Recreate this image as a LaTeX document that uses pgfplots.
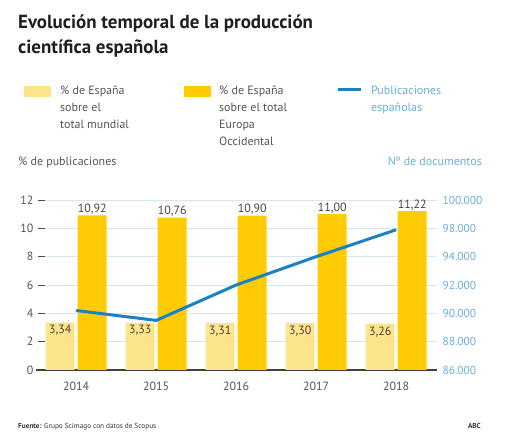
\documentclass[border=0pt]{standalone}
\usepackage{pgfplots}
\pgfplotsset{compat=1.18}
\usepackage{fontspec}
\setmainfont{PT Sans}
\definecolor{lightbar}{HTML}{FDE38A}
\definecolor{darkbar}{HTML}{FFCB05}
\definecolor{lineblue}{HTML}{1B80C4}
\definecolor{rightblue}{HTML}{6CAED6}
\definecolor{gridblue}{HTML}{D3E6F1}
\definecolor{txtgray}{HTML}{555555}
\definecolor{valgray}{HTML}{4A4438}
\begin{document}
\begin{tikzpicture}
\begin{axis}[
  name=main,
  scale only axis, width=392bp, height=170bp,
  xmin=-0.39, xmax=4.51, ymin=0, ymax=12,
  axis x line*=bottom, axis y line*=left,
  x axis line style={draw=black!75, line width=1.2pt, shorten <=-9bp, -},
  y axis line style={draw=none},
  xtick={0,1,2,3,4}, xticklabels={2014,2015,2016,2017,2018},
  xtick style={draw=none},
  ytick={0,2,...,12},
  ytick style={draw=black!70, line width=0.8pt},
  tick align=outside, major tick length=7bp,
  ymajorgrids, grid style={gridblue, line width=0.8pt},
  ticklabel style={font=\fontsize{12}{14}\selectfont, text=txtgray},
  yticklabel style={xshift=-1bp},
  xticklabel style={yshift=-1bp},
  /pgf/number format/assume math mode=true,
  ybar, bar width=0.3625,
  clip=false,
]
\addplot[fill=lightbar, draw=none, bar shift=-0.2,
  nodes near coords, nodes near coords style={anchor=north, yshift=-1bp, font=\fontsize{12}{14}\selectfont, text=valgray, inner sep=1.5pt, /pgf/number format/.cd, use comma, fixed, fixed zerofill, precision=2, assume math mode=true}]
  coordinates {(0,3.34) (1,3.33) (2,3.31) (3,3.30) (4,3.26)};
\addplot[fill=darkbar, draw=none, bar shift=0.2,
  nodes near coords, nodes near coords style={anchor=south, yshift=-0.5bp, font=\fontsize{12}{14}\selectfont, text=valgray, inner sep=1.5pt, /pgf/number format/.cd, use comma, fixed, fixed zerofill, precision=2, assume math mode=true}]
  coordinates {(0,10.92) (1,10.76) (2,10.90) (3,11.00) (4,11.22)};
\coordinate (O) at (rel axis cs:0,0);
\end{axis}

\begin{axis}[
  at={(main.south west)}, anchor=south west,
  scale only axis, width=392bp, height=170bp,
  xmin=-0.39, xmax=4.51, ymin=86000, ymax=98000,
  axis x line=none, axis y line*=right,
  y axis line style={draw=none},
  scaled y ticks=false,
  ytick={86000,88000,90000,92000,94000,96000,98000},
  yticklabels={86.000,88.000,90.000,92.000,94.000,98.000,100.000},
  major tick length=0pt,
  yticklabel style={font=\fontsize{11.5}{14}\selectfont, text=rightblue, xshift=2bp},
  /pgf/number format/assume math mode=true,
  clip=false,
]
\addplot[lineblue, line width=3bp, mark=none] coordinates {(0,90200) (1,89500) (2,92000) (3,94000) (4,95900)};
\end{axis}

\pgfresetboundingbox
\begin{scope}[shift={(O)}, xshift=-45bp, yshift=-72bp, x=1bp, y=1bp]
\path[use as bounding box] (0,0) rectangle (505,442);
% title
\node[anchor=base west,inner sep=0pt,font=\fontsize{19}{23}\selectfont\bfseries,text=black!88] at (18,413.5) {Evolución temporal de la producción};
\node[anchor=base west,inner sep=0pt,font=\fontsize{19}{23}\selectfont\bfseries,text=black!88] at (18,388.5) {científica española};
% legend
\fill[lightbar] (24,345) rectangle (51,356);
\fill[darkbar] (184,345) rectangle (211,356);
\draw[lineblue,line width=3] (338,352) -- (361,352);
\tikzset{leg/.style={anchor=base west,inner sep=0pt,font=\fontsize{12}{15}\selectfont,text=txtgray}}
\node[leg] at (60,347) {\% de España};
\node[leg] at (60,330.3) {sobre el};
\node[leg] at (60,313.6) {total mundial};
\node[leg] at (219,347) {\% de España};
\node[leg] at (219,330.3) {sobre el total};
\node[leg] at (219,313.6) {Europa};
\node[leg] at (219,296.9) {Occidental};
\node[leg,text=rightblue] at (371,347) {Publicaciones};
\node[leg,text=rightblue] at (371,330.3) {españolas};
% axis titles
\node[leg] at (18,276) {\% de publicaciones};
\node[leg,anchor=base east,text=rightblue] at (482,276) {Nº de documentos};
% footer
\node[anchor=base west,inner sep=0pt,font=\fontsize{7.3}{9}\selectfont,text=black!80] at (18,13) {\textbf{Fuente:} Grupo Scimago con datos de Scopus};
\node[anchor=base east,inner sep=0pt,font=\fontsize{7.3}{9}\selectfont\bfseries,text=black!80] at (481,13) {ABC};
\end{scope}
\end{tikzpicture}
\end{document}
